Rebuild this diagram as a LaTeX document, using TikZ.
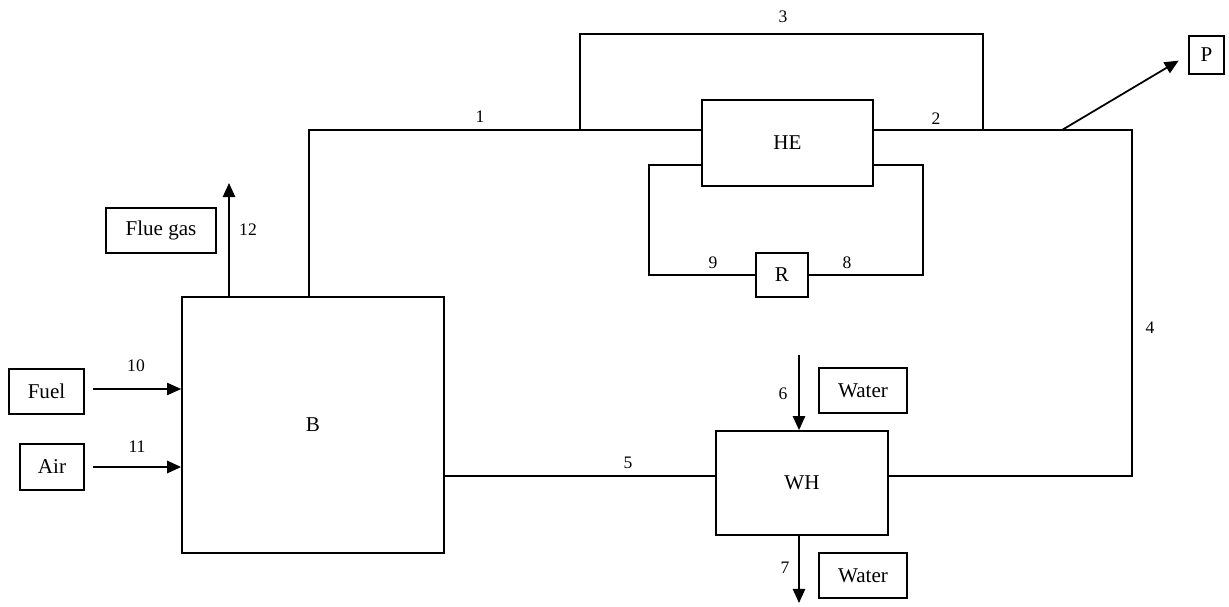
\documentclass[tikz,border=0pt]{standalone}
\usepackage{fontspec}
\setmainfont{Liberation Serif}
\usetikzlibrary{arrows.meta}

\begin{document}
\begin{tikzpicture} [x=0.02cm, y=-0.02cm,
					unit/.style = {draw,
					    rectangle,
					    line width = 1pt,
					    inner sep = 0pt,
					    font = \fontsize{12}{14}\selectfont},
					num/.style = {font = \fontsize{10}{12}\selectfont},
					flow/.style = {line width = 1pt},
					feed/.style = {flow, -{Triangle[length = 8pt, width = 7pt]}}]

					\useasboundingbox (0,0) rectangle (1229,607);

					\node (B) at (313,425) [unit, minimum width = 5.24cm, minimum height = 5.12cm] {B};
					\node (HE) at (787.5,143) [unit, minimum width = 3.42cm, minimum height = 1.72cm] {HE};
					\node (WH) at (802,483) [unit, minimum width = 3.44cm, minimum height = 2.08cm] {WH};
					\node (R) at (782,275) [unit, minimum width = 1.04cm, minimum height = 0.88cm] {R};
					\node (Flue) at (161,230.5) [unit, minimum width = 2.2cm, minimum height = 0.9cm] {Flue gas};
					\node (Fuel) at (46.5,391.5) [unit, minimum width = 1.5cm, minimum height = 0.9cm] {Fuel};
					\node (Air) at (52,467) [unit, minimum width = 1.28cm, minimum height = 0.92cm] {Air};
					\node (WaterIn) at (863,390.5) [unit, minimum width = 1.76cm, minimum height = 0.9cm] {Water};
					\node (WaterOut) at (863,575.5) [unit, minimum width = 1.76cm, minimum height = 0.9cm] {Water};
					\node (P) at (1206.5,55) [unit, minimum width = 0.7cm, minimum height = 0.76cm] {P};

					\coordinate (j1) at (309,130);
					\coordinate (bl) at (580,34);
					\coordinate (br) at (983,34);
					\coordinate (jp) at (1062,130);
					\coordinate (c4) at (1132,130);
					\coordinate (l5) at (450,476);
					\coordinate (lp) at (649,165);
					\coordinate (rp) at (923,165);
					\coordinate (w6) at (799,355);
					\coordinate (w7) at (799,603);
					\coordinate (fluetop) at (229,183);
					\coordinate (f10) at (93,389);

					\draw [flow] (j1 |- B.north) -- (j1) -- (j1 -| HE.west);
					\draw [flow] (bl |- j1) -- (bl) -- (br) -- (br |- j1);
					\draw [flow] (j1 -| HE.east) -- (c4) |- (l5 -| WH.east);
					\draw [flow] (B.east |- l5) -- (l5 -| WH.west);
					\draw [feed, shorten >= 0.22cm] (jp) -- (P.west);
					\draw [flow] (lp -| HE.west) -- (lp) |- (R.west);
					\draw [flow] (rp -| HE.east) -- (rp) |- (R.east);
					\draw [feed] (w6) -- (w6 |- WH.north);
					\draw [feed] (w7 |- WH.south) -- (w7);
					\draw [feed] (fluetop |- B.north) -- (fluetop);
					\draw [feed, line width = 0.6pt] (f10) -- (f10 -| B.west);
					\draw [feed, line width = 1.2pt, shorten <= 0.16cm] (Air.east) -- (Air.east -| B.west);

					\node at (480,117) [num] {1};
					\node at (936,119) [num] {2};
					\node at (783,17) [num] {3};
					\node at (1150,328) [num] {4};
					\node at (628,463) [num] {5};
					\node at (783,394) [num] {6};
					\node at (785,568) [num] {7};
					\node at (847,263) [num] {8};
					\node at (713,263) [num] {9};
					\node at (136,366) [num] {10};
					\node at (137,447) [num] {11};
					\node at (248,230) [num] {12};

				\end{tikzpicture}
\end{document}
